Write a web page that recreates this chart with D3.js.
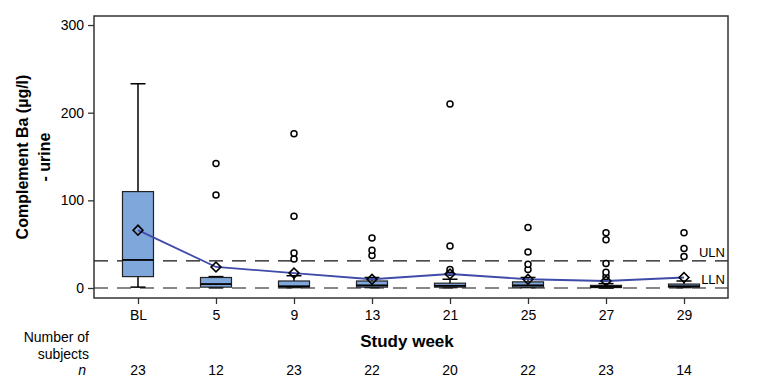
<!DOCTYPE html>
<html>
<head>
<meta charset="utf-8">
<script src="https://cdn.jsdelivr.net/npm/d3@7"></script>
<style>
  body { margin: 0; background: #fff; }
  text { font-family: "Liberation Sans", Arial, sans-serif; fill: #000; }
</style>
</head>
<body>
<div id="chart"></div>
<script>
const weeks = ["BL", "5", "9", "13", "21", "25", "27", "29"];
const subjects = [23, 12, 23, 22, 20, 22, 23, 14];
const q1 = [13, 1, 1, 1, 1, 1, 0.5, 1];
const median = [32, 4.5, 2, 3, 2.5, 3, 1.5, 2];
const q3 = [110, 12, 8, 8, 5.5, 7, 3, 4.5];
const whiskerLow = [1, 0.5, 0.5, 0.5, 0.5, 0.5, 0, 0.5];
const whiskerHigh = [233, 13, 14, 12, 10, 12, 5, 8];
const means = [66, 24, 17, 10, 16, 10, 8, 12];
const outliers = [
  [],
  [106, 142],
  [33, 40, 82, 176],
  [37, 43, 57],
  [18, 21, 48, 210],
  [21, 27, 41, 69],
  [13, 18, 28, 55, 63],
  [36, 45, 63],
];
const yTicks = [0, 100, 200, 300];
const refLines = [
  { label: "ULN", value: 31 },
  { label: "LLN", value: 0 },
];

const svgWidth = 758;
const svgHeight = 388;
const frame = { left: 94, right: 728, top: 16, bottom: 298 };
const boxWidth = 31;
const capWidth = 15;

const data = weeks.map((w, i) => ({
  week: w,
  n: subjects[i],
  q1: q1[i],
  median: median[i],
  q3: q3[i],
  lo: whiskerLow[i],
  hi: whiskerHigh[i],
  mean: means[i],
  outliers: outliers[i],
}));

const svg = d3
  .select("#chart")
  .append("svg")
  .attr("width", svgWidth)
  .attr("height", svgHeight);

const xScale = d3
  .scalePoint()
  .domain(weeks)
  .range([frame.left, frame.right])
  .padding(0.564);

const yScale = d3
  .scaleLinear()
  .domain([-11.4, 310.3])
  .range([frame.bottom, frame.top]);

// Axes
const yAxis = svg
  .append("g")
  .attr("transform", `translate(${frame.left},0)`)
  .call(d3.axisLeft(yScale).tickValues(yTicks).tickSize(6).tickPadding(4));
yAxis.select(".domain").remove();
yAxis.selectAll("line").attr("stroke", "#333").attr("stroke-width", 1.3);
yAxis.selectAll("text").style("font-size", "14px").attr("fill", "#000");

const xAxis = svg
  .append("g")
  .attr("transform", `translate(0,${frame.bottom})`)
  .call(d3.axisBottom(xScale).tickSize(6).tickPadding(6));
xAxis.select(".domain").remove();
xAxis.selectAll("line").attr("stroke", "#333").attr("stroke-width", 1.3);
xAxis.selectAll("text").style("font-size", "14px").attr("fill", "#000");

// Reference lines
svg
  .selectAll(".ref")
  .data(refLines)
  .enter()
  .append("line")
  .attr("x1", frame.left)
  .attr("x2", frame.right)
  .attr("y1", (d) => yScale(d.value))
  .attr("y2", (d) => yScale(d.value))
  .attr("stroke", "#111")
  .attr("stroke-width", 1.2)
  .attr("stroke-dasharray", "14,9");

svg
  .selectAll(".ref-label")
  .data(refLines)
  .enter()
  .append("text")
  .attr("x", frame.right - 3)
  .attr("y", (d) => yScale(d.value) - 4)
  .attr("text-anchor", "end")
  .style("font-size", "13px")
  .attr("fill", "#222")
  .text((d) => d.label);

// Boxes
const groups = svg
  .selectAll(".box")
  .data(data)
  .enter()
  .append("g")
  .attr("class", "box")
  .attr("transform", (d) => `translate(${xScale(d.week)},0)`);

groups
  .append("line")
  .attr("y1", (d) => yScale(d.lo))
  .attr("y2", (d) => yScale(d.hi))
  .attr("stroke", "#000")
  .attr("stroke-width", 1.5);

groups
  .selectAll(".cap")
  .data((d) => [d.lo, d.hi])
  .enter()
  .append("line")
  .attr("x1", -capWidth / 2)
  .attr("x2", capWidth / 2)
  .attr("y1", (v) => yScale(v))
  .attr("y2", (v) => yScale(v))
  .attr("stroke", "#000")
  .attr("stroke-width", 1.5);

groups
  .append("rect")
  .attr("x", -boxWidth / 2)
  .attr("width", boxWidth)
  .attr("y", (d) => yScale(d.q3))
  .attr("height", (d) => yScale(d.q1) - yScale(d.q3))
  .attr("fill", "#7fa7dc")
  .attr("stroke", "#222")
  .attr("stroke-width", 1.2);

groups
  .append("line")
  .attr("x1", -boxWidth / 2)
  .attr("x2", boxWidth / 2)
  .attr("y1", (d) => yScale(d.median))
  .attr("y2", (d) => yScale(d.median))
  .attr("stroke", "#000")
  .attr("stroke-width", 1.8);

groups
  .selectAll(".outlier")
  .data((d) => d.outliers)
  .enter()
  .append("circle")
  .attr("cy", (v) => yScale(v))
  .attr("r", 3)
  .attr("fill", "#fff")
  .attr("stroke", "#000")
  .attr("stroke-width", 1.5);

// Mean line and diamonds
const meanLine = d3
  .line()
  .x((d) => xScale(d.week))
  .y((d) => yScale(d.mean));
svg
  .append("path")
  .datum(data)
  .attr("fill", "none")
  .attr("stroke", "#3f4ba8")
  .attr("stroke-width", 1.8)
  .attr("d", meanLine);

svg
  .selectAll(".mean")
  .data(data)
  .enter()
  .append("path")
  .attr("d", d3.symbol(d3.symbolSquare, 48))
  .attr("transform", (d) => `translate(${xScale(d.week)},${yScale(d.mean)}) rotate(45)`)
  .attr("fill", "none")
  .attr("stroke", "#000")
  .attr("stroke-width", 1.6);

// Frame
svg
  .append("rect")
  .attr("x", frame.left)
  .attr("y", frame.top)
  .attr("width", frame.right - frame.left)
  .attr("height", frame.bottom - frame.top)
  .attr("fill", "none")
  .attr("stroke", "#333")
  .attr("stroke-width", 1.5);

// Titles
svg
  .append("text")
  .attr("x", (frame.left + frame.right) / 2 - 4)
  .attr("y", 347)
  .attr("text-anchor", "middle")
  .style("font-size", "17px")
  .style("font-weight", "bold")
  .text("Study week");

const yTitle = svg
  .append("text")
  .attr("transform", "translate(28,157) rotate(-90)")
  .attr("text-anchor", "middle")
  .style("font-size", "16px")
  .style("font-weight", "bold");
yTitle.append("tspan").attr("x", 0).attr("y", 0).text("Complement Ba (µg/l)");
yTitle.append("tspan").attr("x", 0).attr("y", 22).text("- urine");

// Number of subjects
svg
  .selectAll(".nlabel")
  .data(["Number of", "subjects"])
  .enter()
  .append("text")
  .attr("x", 89)
  .attr("y", (d, i) => 342 + i * 17)
  .attr("text-anchor", "end")
  .style("font-size", "14px")
  .text((d) => d);

svg
  .append("text")
  .attr("x", 86)
  .attr("y", 375)
  .attr("text-anchor", "end")
  .style("font-size", "14px")
  .style("font-style", "italic")
  .text("n");

svg
  .selectAll(".ncount")
  .data(data)
  .enter()
  .append("text")
  .attr("x", (d) => xScale(d.week))
  .attr("y", 375)
  .attr("text-anchor", "middle")
  .style("font-size", "14px")
  .text((d) => d.n);
</script>
</body>
</html>
